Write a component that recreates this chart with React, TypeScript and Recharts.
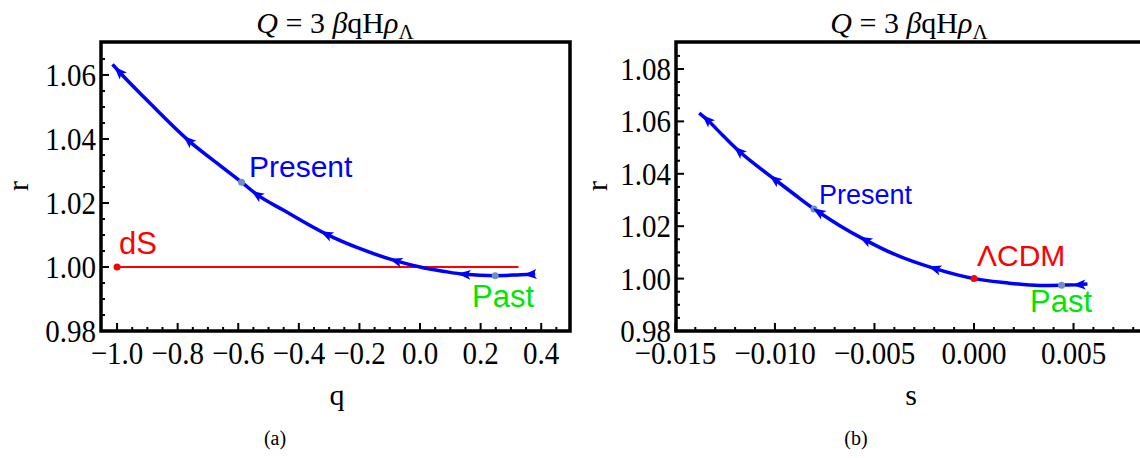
import React from 'react';
import { LineChart, Line, XAxis, YAxis, ReferenceArea, ReferenceDot, ReferenceLine } from 'recharts';

// panel (a): r against q
const qValues = [-1.015, -0.993, -0.9, -0.764, -0.65, -0.589, -0.538, -0.45, -0.308, -0.2, -0.079, 0.0, 0.075, 0.147, 0.248, 0.32, 0.365, 0.38];
const rOfQ = [1.0633, 1.061, 1.052, 1.0395, 1.031, 1.0265, 1.0226, 1.0177, 1.0102, 1.0058, 1.0019, 1.0, 0.9987, 0.9977, 0.9973, 0.9975, 0.9977, 0.9979];
const qArrows = [-0.993, -0.764, -0.538, -0.308, -0.079, 0.147, 0.365];
const dsLine = [-1.0, 0.325];
const presentQ = [-0.589, 1.0265];
const pastQ = [0.248, 0.9973];

// panel (b): r against s
const sValues = [-0.0138, -0.0134, -0.0126, -0.0118, -0.0109, -0.01, -0.009, -0.00804, -0.0078, -0.0068, -0.00545, -0.004, -0.00196, 0.0, 0.0015, 0.0033, 0.0044, 0.0053, 0.0057];
const rOfS = [1.0632, 1.0606, 1.0545, 1.0486, 1.043, 1.0378, 1.032, 1.0266, 1.0254, 1.0205, 1.0147, 1.0093, 1.0038, 1.0, 0.9985, 0.9974, 0.9975, 0.9977, 0.9979];
const sArrows = [-0.0134, -0.0118, -0.01, -0.0078, -0.00545, -0.00196, 0.0053];
const presentS = [-0.00804, 1.0266];
const pastS = [0.0044, 0.9975];
const lcdmS = [0.0, 1.0];

// ticks
const qMajor = [-1.0, -0.8, -0.6, -0.4, -0.2, 0.0, 0.2, 0.4];
const qMinor = [-0.95, -0.9, -0.85, -0.75, -0.7, -0.65, -0.55, -0.5, -0.45, -0.35, -0.3, -0.25, -0.15, -0.1, -0.05, 0.05, 0.1, 0.15, 0.25, 0.3, 0.35, 0.45];
const rMajorA = [0.98, 1.0, 1.02, 1.04, 1.06];
const rMinorA = [0.985, 0.99, 0.995, 1.005, 1.01, 1.015, 1.025, 1.03, 1.035, 1.045, 1.05, 1.055, 1.065];
const sMajor = [-0.015, -0.01, -0.005, 0.0, 0.005];
const sMinor = [-0.014, -0.013, -0.012, -0.011, -0.009, -0.008, -0.007, -0.006, -0.004, -0.003, -0.002, -0.001, 0.001, 0.002, 0.003, 0.004, 0.006, 0.007, 0.008];
const rMajorB = [0.98, 1.0, 1.02, 1.04, 1.06, 1.08];
const rMinorB = [0.985, 0.99, 0.995, 1.005, 1.01, 1.015, 1.025, 1.03, 1.035, 1.045, 1.05, 1.055, 1.065, 1.07, 1.075, 1.085];

const SERIF = '"Liberation Serif", "Times New Roman", serif';
const SANS = '"Liberation Sans", Arial, sans-serif';
const BLUE = '#0000ff';
const RED = '#ff0000';
const GREEN = '#00e600';
const DOT = '#6f8fc2';

const near = (v: number, list: number[]) => list.some((m) => Math.abs(m - v) < 1e-9);
const fmt = (v: number, d: number) => (v < -1e-12 ? '\u2212' : '') + Math.abs(v).toFixed(d);

function makeTick(side: string, majors: number[], digits: number, label: boolean) {
  return (props: any) => {
    const { x, y, payload } = props;
    const v = payload.value;
    const major = near(v, majors);
    const len = major ? 8 : 4;
    let x2 = x, y2 = y;
    if (side === 'bottom') y2 = y - len;
    if (side === 'top') y2 = y + len;
    if (side === 'left') x2 = x + len;
    if (side === 'right') x2 = x - len;
    return (
      <g>
        <line x1={x} y1={y} x2={x2} y2={y2} stroke="#000" strokeWidth={2} />
        {label && major && side === 'bottom' && (
          <text transform={`translate(${x},${y + 33}) scale(1,1.1)`} textAnchor="middle" fontFamily={SERIF} fontSize={29} fill="#000">{fmt(v, digits)}</text>
        )}
        {label && major && side === 'left' && (
          <text transform={`translate(${x - 5},${y + 11}) scale(1,1.1)`} textAnchor="end" fontFamily={SERIF} fontSize={29} fill="#000">{fmt(v, digits)}</text>
        )}
      </g>
    );
  };
}

function arrowDot(xs: number[], ys: number[], arrows: number[], kx: number, ky: number) {
  return (props: any) => {
    const { cx, cy, index } = props;
    if (!near(xs[index], arrows)) return <g key={`d${index}`} />;
    const prev = Math.max(index - 1, 0);
    const next = Math.min(index + 1, xs.length - 1);
    const dx = (xs[prev] - xs[next]) * kx;
    const dy = -(ys[prev] - ys[next]) * ky;
    const ang = (Math.atan2(dy, dx) * 180) / Math.PI;
    return (
      <path key={`d${index}`} d="M7,0 L-6,-5 L-3,0 L-6,5 Z" fill={BLUE}
        transform={`translate(${cx},${cy}) rotate(${ang})`} />
    );
  };
}

type PanelProps = {
  left: number; width: number; plotLeft: number; plotRight: number;
  xDom: [number, number]; yDom: [number, number];
  xs: number[]; ys: number[]; arrows: number[];
  xMajor: number[]; xMinor: number[]; xDigits: number;
  yMajor: number[]; yMinor: number[];
  children?: React.ReactNode;
};

const TOP = 42;
const BOTTOM = 331;

function Panel(p: PanelProps) {
  const data = p.xs.map((x, i) => ({ x, r: p.ys[i] }));
  const plotW = p.plotRight - p.plotLeft;
  const kx = plotW / (p.xDom[1] - p.xDom[0]);
  const ky = (BOTTOM - TOP) / (p.yDom[1] - p.yDom[0]);
  const xt = [...p.xMajor, ...p.xMinor].sort((a, b) => a - b);
  const yt = [...p.yMajor, ...p.yMinor].sort((a, b) => a - b);
  return (
    <div style={{ position: 'absolute', left: p.left, top: 0 }}>
      <LineChart width={p.width} height={458} data={data}
        margin={{ top: TOP, left: p.plotLeft - 60, right: p.width - p.plotRight, bottom: 458 - BOTTOM - 40 }}>
        <XAxis xAxisId={0} dataKey="x" type="number" domain={p.xDom} allowDataOverflow ticks={xt} interval={0}
          axisLine={false} tickLine={false} tickSize={0} tickMargin={0} height={40}
          tick={makeTick('bottom', p.xMajor, p.xDigits, true)} />
        <XAxis xAxisId="top" orientation="top" type="number" domain={p.xDom} allowDataOverflow ticks={xt} interval={0}
          axisLine={false} tickLine={false} tickSize={0} tickMargin={0} height={0}
          tick={makeTick('top', p.xMajor, p.xDigits, false)} />
        <YAxis yAxisId={0} type="number" domain={p.yDom} allowDataOverflow ticks={yt} interval={0}
          axisLine={false} tickLine={false} tickSize={0} tickMargin={0} width={60}
          tick={makeTick('left', p.yMajor, 2, true)} />
        <YAxis yAxisId="right" orientation="right" type="number" domain={p.yDom} allowDataOverflow ticks={yt} interval={0}
          axisLine={false} tickLine={false} tickSize={0} tickMargin={0} width={0}
          tick={makeTick('right', p.yMajor, 2, false)} />
        {p.children}
        <Line type="monotone" dataKey="r" stroke={BLUE} strokeWidth={3.5} isAnimationActive={false}
          activeDot={false} dot={arrowDot(p.xs, p.ys, p.arrows, kx, ky)} />
        <ReferenceArea x1={p.xDom[0]} x2={p.xDom[1]} y1={p.yDom[0]} y2={p.yDom[1]}
          fill="none" stroke="#000" strokeWidth={3.5} ifOverflow="visible" />
      </LineChart>
    </div>
  );
}

function Title({ cx }: { cx: number }) {
  return (
    <text x={cx} y={33} textAnchor="middle" fontFamily={SERIF} fontSize={30} fill="#000">
      <tspan fontStyle="italic">Q</tspan>
      <tspan> = 3 </tspan>
      <tspan fontStyle="italic">β</tspan>
      <tspan>qH</tspan>
      <tspan fontStyle="italic">ρ</tspan>
      <tspan fontSize={21} dy={6}>Λ</tspan>
    </text>
  );
}

export default function App() {
  return (
    <div style={{ position: 'fixed', left: 0, top: 0, width: 1140, height: 458, overflow: 'hidden', background: '#fff' }}>
      <Panel left={0} width={600} plotLeft={101} plotRight={570}
        xDom={[-1.053, 0.495]} yDom={[0.98, 1.0703]}
        xs={qValues} ys={rOfQ} arrows={qArrows}
        xMajor={qMajor} xMinor={qMinor} xDigits={1} yMajor={rMajorA} yMinor={rMinorA}>
        <ReferenceLine segment={[{ x: dsLine[0], y: 1 }, { x: dsLine[1], y: 1 }]} stroke={RED} strokeWidth={2} />
        <ReferenceDot x={dsLine[0]} y={1} r={3.5} fill={RED} stroke="none" />
        <ReferenceDot x={presentQ[0]} y={presentQ[1]} r={3.5} fill={DOT} stroke="none" />
        <ReferenceDot x={pastQ[0]} y={pastQ[1]} r={3.5} fill={DOT} stroke="none" />
      </Panel>
      <Panel left={580} width={580} plotLeft={96} plotRight={562}
        xDom={[-0.01497, 0.00844]} yDom={[0.98, 1.0903]}
        xs={sValues} ys={rOfS} arrows={sArrows}
        xMajor={sMajor} xMinor={sMinor} xDigits={3} yMajor={rMajorB} yMinor={rMinorB}>
        <ReferenceDot x={lcdmS[0]} y={lcdmS[1]} r={3.5} fill={RED} stroke="none" />
        <ReferenceDot x={presentS[0]} y={presentS[1]} r={3.5} fill={DOT} stroke="none" />
        <ReferenceDot x={pastS[0]} y={pastS[1]} r={3.5} fill={DOT} stroke="none" />
      </Panel>
      <svg width={1140} height={458} style={{ position: 'absolute', left: 0, top: 0, pointerEvents: 'none' }}>
        <Title cx={335} />
        <Title cx={909} />
        <text transform="translate(28,186) rotate(-90)" textAnchor="middle" fontFamily={SERIF} fontSize={30}>r</text>
        <text transform="translate(607,186) rotate(-90)" textAnchor="middle" fontFamily={SERIF} fontSize={30}>r</text>
        <text x={337} y={405} textAnchor="middle" fontFamily={SERIF} fontSize={30}>q</text>
        <text x={911} y={405} textAnchor="middle" fontFamily={SERIF} fontSize={30}>s</text>
        <text x={275} y={445} textAnchor="middle" fontFamily={SERIF} fontSize={20}>(a)</text>
        <text x={856} y={445} textAnchor="middle" fontFamily={SERIF} fontSize={20}>(b)</text>
        <text x={249} y={177} fontFamily={SANS} fontSize={30} fill={BLUE}>Present</text>
        <text x={119} y={254} fontFamily={SANS} fontSize={31} fill={RED}>dS</text>
        <text x={472} y={307} fontFamily={SANS} fontSize={31} fill={GREEN}>Past</text>
        <text x={819} y={204} fontFamily={SANS} fontSize={27} fill={BLUE}>Present</text>
        <text x={977} y={266} fontFamily={SANS} fontSize={30} fill={RED}>ΛCDM</text>
        <text x={1030} y={312} fontFamily={SANS} fontSize={31} fill={GREEN}>Past</text>
      </svg>
    </div>
  );
}
